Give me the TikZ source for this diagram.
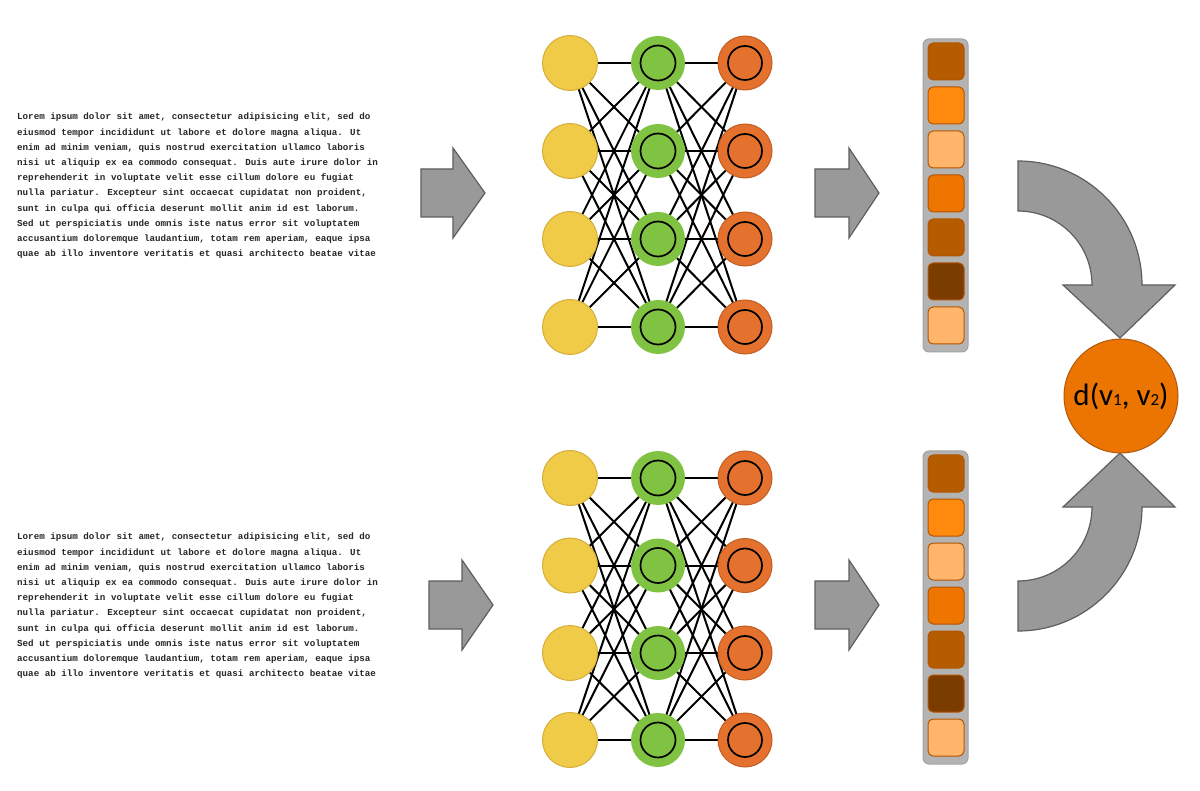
\documentclass[tikz,border=0pt]{standalone}
\usepackage{fontspec}
\newfontfamily\monofont{Liberation Mono}
\newfontfamily\labfont{Carlito}
\usetikzlibrary{backgrounds}
\definecolor{yel}{HTML}{F0CB47}
\definecolor{yelb}{HTML}{D4AE3A}
\definecolor{grn}{HTML}{80C342}
\definecolor{org}{HTML}{E4722E}
\definecolor{orgb}{HTML}{C25E22}
\definecolor{arrfill}{HTML}{999999}
\definecolor{arrline}{HTML}{5E5E5E}
\definecolor{barfill}{HTML}{B3B3B3}
\definecolor{barline}{HTML}{A3A3A3}
\definecolor{sqline}{HTML}{B35400}
\definecolor{sqa}{HTML}{B65C00}
\definecolor{sqb}{HTML}{FF8A0E}
\definecolor{sqc}{HTML}{FFB66C}
\definecolor{sqd}{HTML}{EE7500}
\definecolor{sqe}{HTML}{7B3C00}
\definecolor{dfill}{HTML}{EB7500}
\definecolor{dline}{HTML}{B05A10}
\newcommand\nnet[2]{%
  \foreach \yy [count=\i] in {#2}{
    \node[ynode] (#1y\i) at (570,\yy) {};
    \node[gnode] (#1g\i) at (658,\yy) {};
    \node[onode] (#1o\i) at (745,\yy) {};
  }
  \begin{scope}[on background layer]
    \foreach \i in {1,...,4}{\foreach \j in {1,...,4}{
      \draw[conn] (#1y\i.center) -- (#1g\j.center);
      \draw[conn] (#1g\i.center) -- (#1o\j.center);
    }}
  \end{scope}
}
\newcommand\vect[1]{%
  \draw[vbar] (923,{#1-4}) rectangle (968,{#1+309});
  \foreach \c [count=\k] in {sqa,sqb,sqc,sqd,sqa,sqe,sqc}
    \draw[sqbox,fill=\c] (928,{#1+(\k-1)*44}) rectangle ++(36,37);
}
\newcommand\sarrow[4]{%
  \draw[garrow] (#1,{#4-24}) -- (#2,{#4-24}) -- (#2,{#4-45}) -- (#3,#4)
    -- (#2,{#4+45}) -- (#2,{#4+24}) -- (#1,{#4+24}) -- cycle;
}
\begin{document}
\begin{tikzpicture}[x=1pt,y=-1pt,
  ynode/.style={circle,fill=yel,draw=yelb,line width=1pt,minimum size=55pt,inner sep=0pt},
  gnode/.style={circle,fill=grn,minimum size=54pt,inner sep=0pt,
    path picture={\draw[black,line width=1.7pt] (path picture bounding box.center) circle[radius=17.5pt];}},
  onode/.style={circle,fill=org,draw=orgb,line width=1pt,minimum size=54pt,inner sep=0pt,
    path picture={\draw[black,line width=1.7pt] (path picture bounding box.center) circle[radius=17pt];}},
  conn/.style={black,line width=2pt},
  vbar/.style={fill=barfill,draw=barline,line width=1pt,rounded corners=6pt},
  sqbox/.style={draw=sqline,line width=1pt,rounded corners=5pt},
  garrow/.style={fill=arrfill,draw=arrline,line width=1.2pt,line join=miter},
  txt/.style={font=\monofont\bfseries\fontsize{9.2}{15.2}\selectfont,text=black!85,align=left,inner sep=0pt,anchor=north west},
  dnode/.style={circle,fill=dfill,draw=dline,line width=1pt,minimum size=114pt,inner sep=0pt,
    font=\labfont\fontsize{31}{31}\selectfont}
]
\useasboundingbox (0,0) rectangle (1200,791);
\begin{scope}[on background layer]
  \fill[white] (0,0) rectangle (1200,791);
\end{scope}
\node[txt] (text1) at (17,113) {Lorem ipsum dolor sit amet, consectetur adipisicing elit, sed do\\
eiusmod tempor incididunt ut labore et dolore magna aliqua. Ut\\
enim ad minim veniam, quis nostrud exercitation ullamco laboris\\
nisi ut aliquip ex ea commodo consequat. Duis aute irure dolor in\\
reprehenderit in voluptate velit esse cillum dolore eu fugiat\\
nulla pariatur. Excepteur sint occaecat cupidatat non proident,\\
sunt in culpa qui officia deserunt mollit anim id est laborum.\\
Sed ut perspiciatis unde omnis iste natus error sit voluptatem\\
accusantium doloremque laudantium, totam rem aperiam, eaque ipsa\\
quae ab illo inventore veritatis et quasi architecto beatae vitae};
\node[txt] (text2) at (17,533) {Lorem ipsum dolor sit amet, consectetur adipisicing elit, sed do\\
eiusmod tempor incididunt ut labore et dolore magna aliqua. Ut\\
enim ad minim veniam, quis nostrud exercitation ullamco laboris\\
nisi ut aliquip ex ea commodo consequat. Duis aute irure dolor in\\
reprehenderit in voluptate velit esse cillum dolore eu fugiat\\
nulla pariatur. Excepteur sint occaecat cupidatat non proident,\\
sunt in culpa qui officia deserunt mollit anim id est laborum.\\
Sed ut perspiciatis unde omnis iste natus error sit voluptatem\\
accusantium doloremque laudantium, totam rem aperiam, eaque ipsa\\
quae ab illo inventore veritatis et quasi architecto beatae vitae};
\sarrow{421}{453}{485}{193}
\sarrow{815}{849}{879}{193}
\sarrow{429}{462}{493}{605}
\sarrow{815}{849}{879}{605}
\nnet{a}{63,151,239,327}
\nnet{b}{478,565.5,653,740}
\vect{43}
\vect{455}
% curved arrows
\draw[garrow] (1018,161) arc[start angle=-90,end angle=0,radius=124] -- (1175,285)
  -- (1120,338) -- (1063,285) -- (1092,285) arc[start angle=0,end angle=-90,radius=74] -- cycle;
\draw[garrow] (1018,631) arc[start angle=90,end angle=0,radius=124] -- (1175,507)
  -- (1120,453) -- (1063,507) -- (1092,507) arc[start angle=0,end angle=90,radius=74] -- cycle;
\node[dnode] (dist) at (1121,396) {d(v{\fontsize{17}{17}\selectfont 1}, v{\fontsize{17}{17}\selectfont 2})};
\end{tikzpicture}
\end{document}
